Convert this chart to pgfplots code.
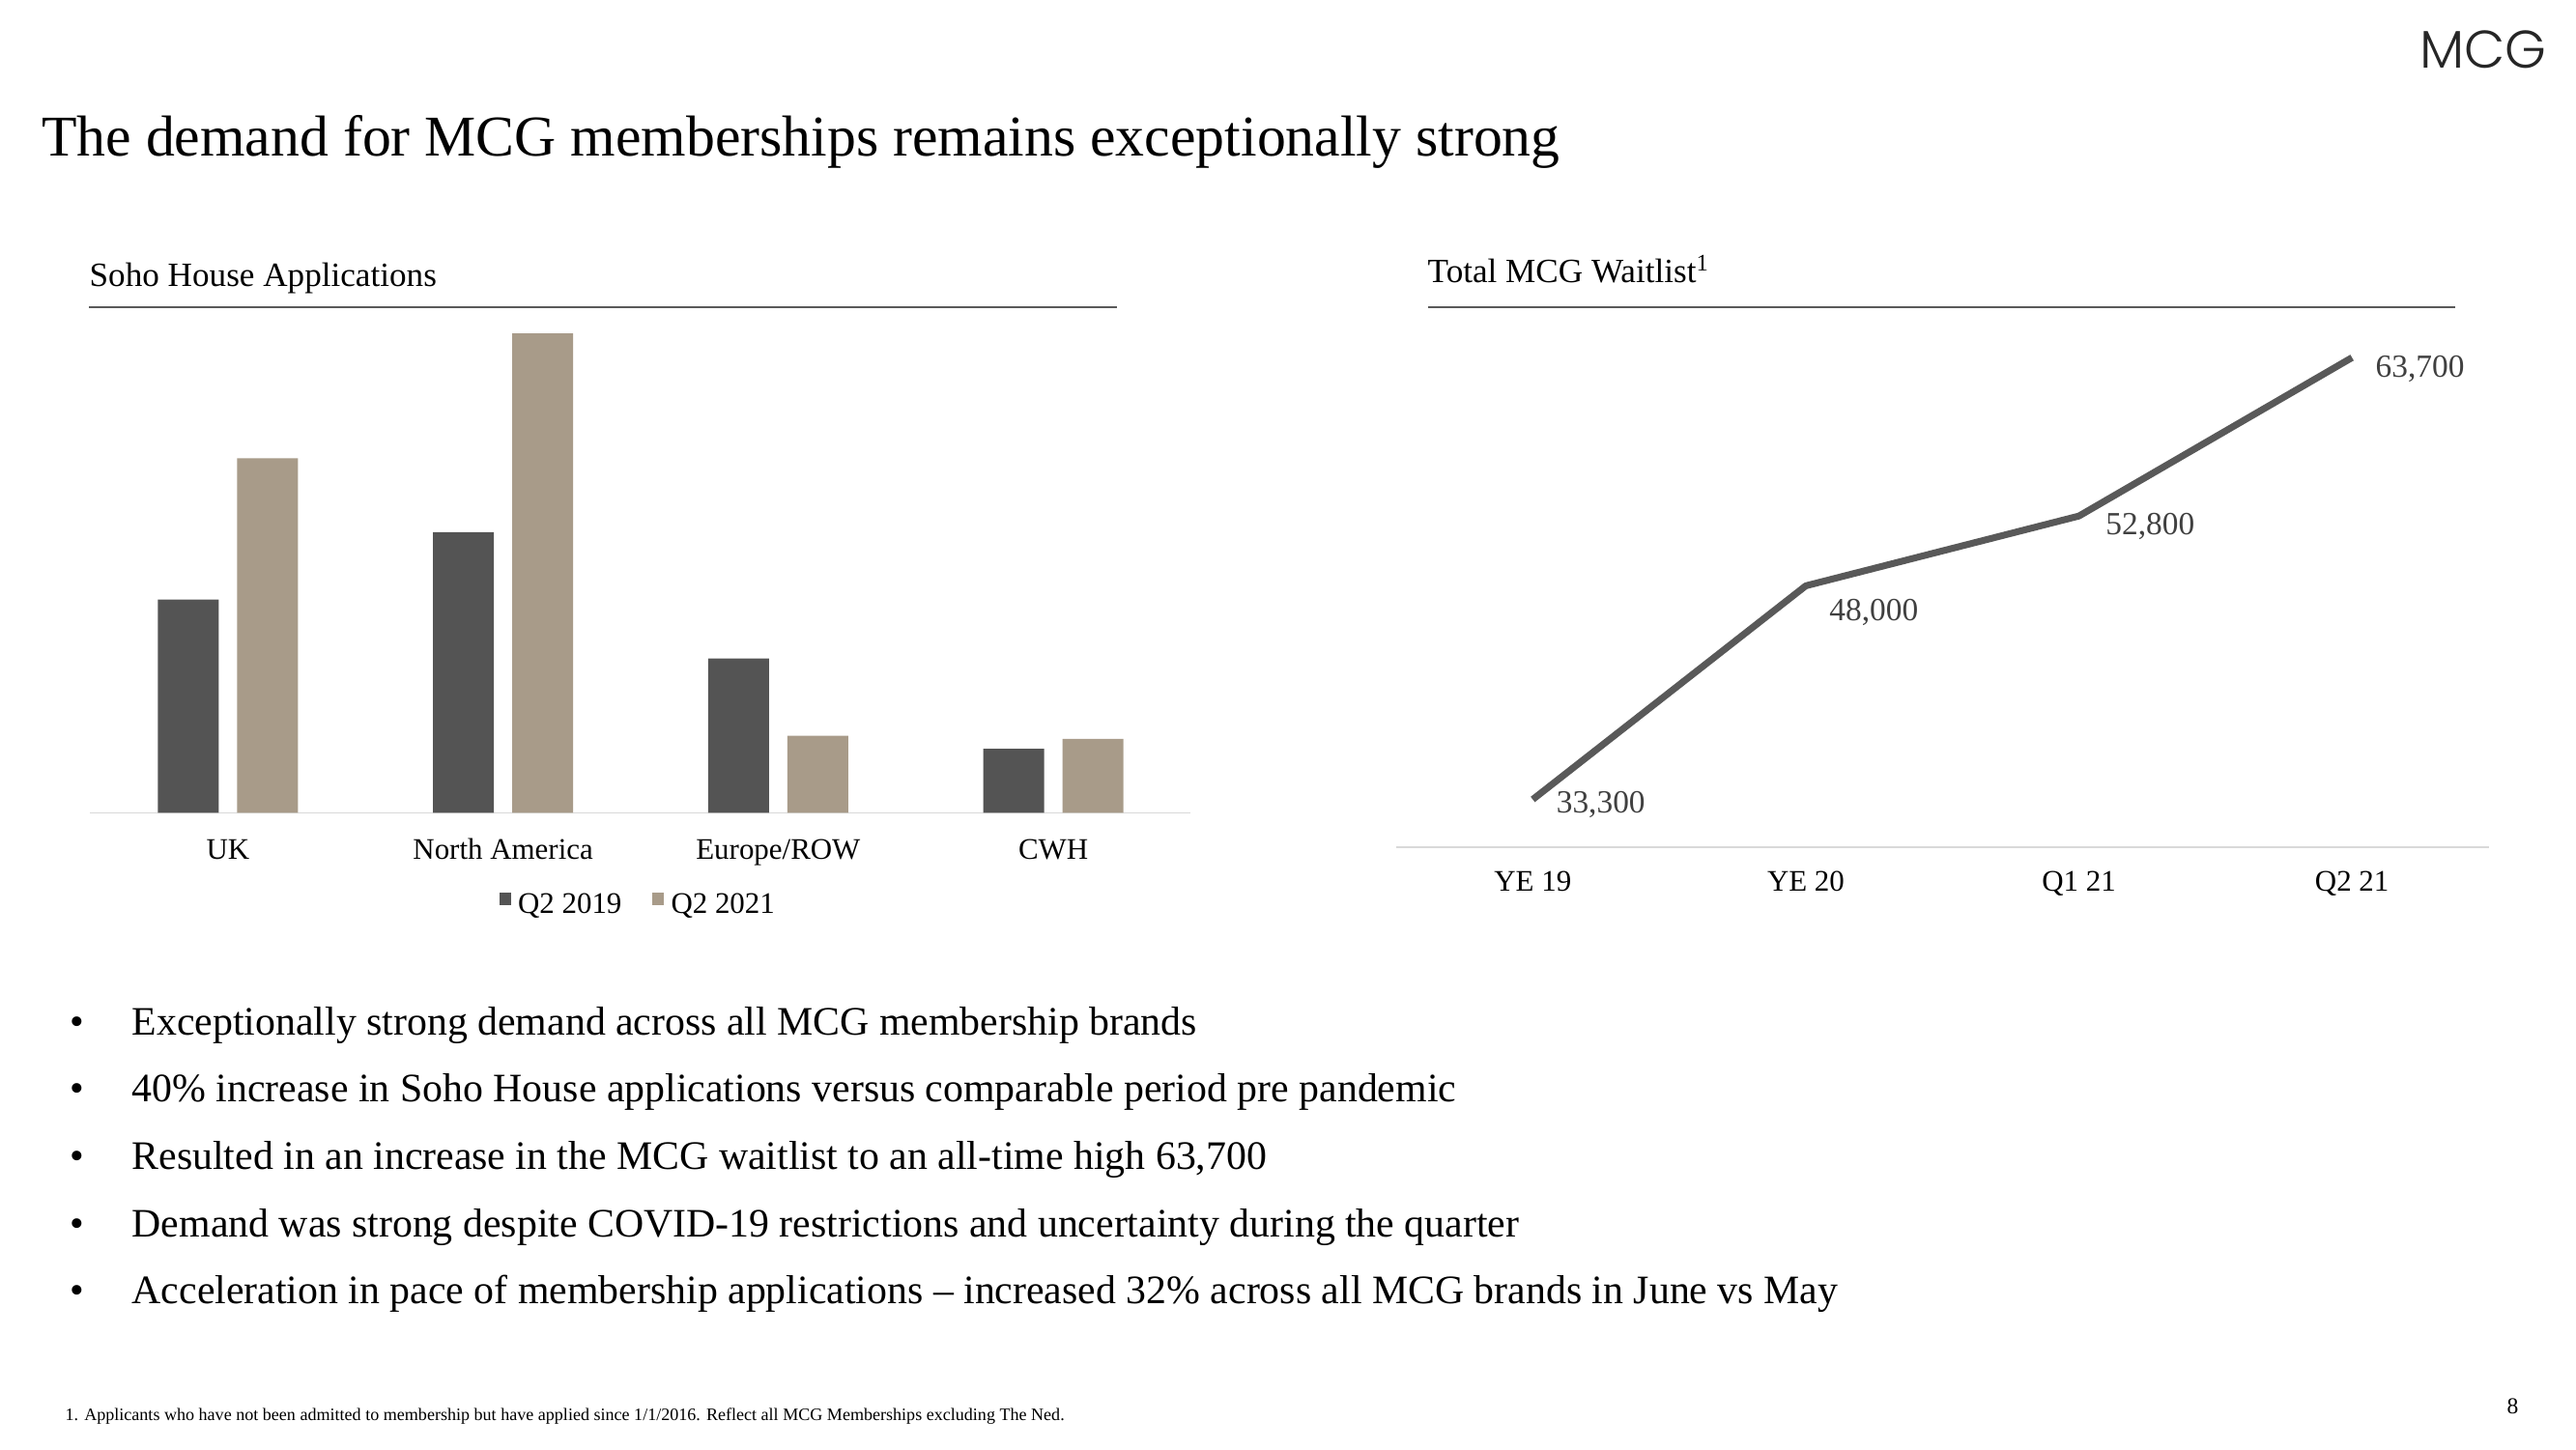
\documentclass[border=0pt]{standalone}
\usepackage{pgfplots}
\pgfplotsset{compat=1.18}
\usepackage{fontspec}
\setmainfont{Liberation Serif}
\newfontfamily\logofont{Poppins Light}
\definecolor{barDark}{HTML}{545454}
\definecolor{barTan}{HTML}{A89B89}
\definecolor{lineGray}{HTML}{595959}
\definecolor{axisGray}{HTML}{D9D9D9}
\definecolor{labelGray}{HTML}{404040}
\begin{document}
\begin{tikzpicture}[x=1cm,y=1cm]
\path[use as bounding box] (0,0) rectangle (26.66,15);
% logo
\node[anchor=base east, inner sep=0, font=\logofont\fontsize{15.6}{16}\selectfont, text=black!85] at (26.36,14.29) {MCG};
% title
\node[anchor=base west, inner sep=0, font=\fontsize{17}{20}\selectfont] at (0.425,13.38) {The demand for MCG memberships remains exceptionally strong};
% chart titles
\node[anchor=base west, inner sep=0, font=\fontsize{10}{12}\selectfont] at (0.92,12.03) {Soho House Applications};
\node[anchor=base west, inner sep=0, font=\fontsize{10}{12}\selectfont] at (14.77,12.07) {Total MCG Waitlist\textsuperscript{1}};
\draw[lineGray, line width=0.77pt] (0.92,11.82) -- (11.56,11.82);
\draw[lineGray, line width=0.77pt] (14.775,11.82) -- (25.41,11.82);

% left chart
\begin{axis}[
  at={(0.935cm,6.585cm)}, anchor=south west,
  scale only axis, width=11.39cm, height=5.1cm,
  xmin=-0.5, xmax=3.5, ymin=0, ymax=300,
  ybar=0.19cm, bar width=0.629cm,
  axis x line*=bottom, axis y line=none,
  x axis line style={draw=axisGray, line width=0.5pt, -},
  xtick={0,1,2,3}, xticklabels={UK,North America,Europe/ROW,CWH},
  xtick style={draw=none}, ytick=\empty,
  xticklabel style={anchor=base, yshift=-0.334cm, inner sep=0, font=\fontsize{8.8}{10}\selectfont},
  clip=false,
  legend style={at={(0.5,-0.188)}, anchor=center, draw=none, fill=none, legend columns=2,
    font=\fontsize{8.8}{10}\selectfont, inner sep=0pt,
    /tikz/every even column/.append style={column sep=0.25cm}},
  legend image code/.code={\fill[#1] (0cm,0cm) rectangle (0.12cm,0.13cm);},
]
\addplot[fill=barDark, draw=none] coordinates {(0,130) (1,171) (2,94) (3,39)};
\addplot[fill=barTan, draw=none] coordinates {(0,216) (1,292) (2,47) (3,45)};
\legend{Q2 2019, Q2 2021}
\end{axis}

% right chart
\begin{axis}[
  at={(14.45cm,6.228cm)}, anchor=south west,
  scale only axis, width=11.305cm, height=5.416cm,
  xmin=-0.5, xmax=3.5, ymin=30000, ymax=66000,
  axis x line*=bottom, axis y line=none,
  x axis line style={draw=axisGray, line width=0.5pt, -},
  xtick={0,1,2,3}, xticklabels={YE 19,YE 20,Q1 21,Q2 21},
  xtick style={draw=none}, ytick=\empty,
  xticklabel style={anchor=base, yshift=-0.455cm, inner sep=0, font=\fontsize{8.8}{10}\selectfont},
  clip=false,
]
\addplot[lineGray, line width=2pt, line join=round] coordinates {(0,33300) (1,48000) (2,52800) (3,63700)};
\node[anchor=west, inner sep=0, font=\fontsize{9.5}{11}\selectfont, text=labelGray, xshift=0.238cm, yshift=-0.051cm] at (axis cs:0,33300) {33,300};
\node[anchor=west, inner sep=0, font=\fontsize{9.5}{11}\selectfont, text=labelGray, xshift=0.238cm, yshift=-0.272cm] at (axis cs:1,48000) {48,000};
\node[anchor=west, inner sep=0, font=\fontsize{9.5}{11}\selectfont, text=labelGray, xshift=0.272cm, yshift=-0.105cm] at (axis cs:2,52800) {52,800};
\node[anchor=west, inner sep=0, font=\fontsize{9.5}{11}\selectfont, text=labelGray, xshift=0.238cm, yshift=-0.119cm] at (axis cs:3,63700) {63,700};
\end{axis}

% bullets
\begin{scope}[every node/.style={inner sep=0, font=\fontsize{11.9}{14}\selectfont}]
\node[anchor=base] at (0.80,4.29) {•};
\node[anchor=base west] at (1.36,4.29) {Exceptionally strong demand across all MCG membership brands};
\node[anchor=base] at (0.80,3.593) {•};
\node[anchor=base west] at (1.36,3.593) {40\% increase in Soho House applications versus comparable period pre pandemic};
\node[anchor=base] at (0.80,2.896) {•};
\node[anchor=base west] at (1.36,2.896) {Resulted in an increase in the MCG waitlist to an all-time high 63,700};
\node[anchor=base] at (0.80,2.20) {•};
\node[anchor=base west] at (1.36,2.20) {Demand was strong despite COVID-19 restrictions and uncertainty during the quarter};
\node[anchor=base] at (0.80,1.502) {•};
\node[anchor=base west] at (1.36,1.502) {Acceleration in pace of membership applications -- increased 32\% across all MCG brands in June vs May};
\end{scope}

% footnote and page number
\node[anchor=base west, inner sep=0, font=\fontsize{5.14}{6}\selectfont] at (0.67,0.293) {1. Applicants who have not been admitted to membership but have applied since 1/1/2016. Reflect all MCG Memberships excluding The Ned.};
\node[anchor=base, inner sep=0, font=\fontsize{6.7}{8}\selectfont] at (26.005,0.37) {8};
\end{tikzpicture}
\end{document}
